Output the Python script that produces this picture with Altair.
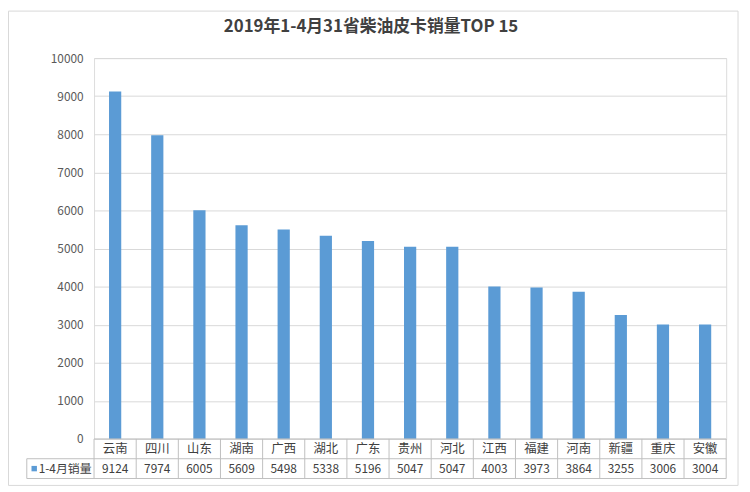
import altair as alt
import pandas as pd

# ---- data ----
provinces = ["云南", "四川", "山东", "湖南", "广西", "湖北", "广东", "贵州",
             "河北", "江西", "福建", "河南", "新疆", "重庆", "安徽"]
sales = [9124, 7974, 6005, 5609, 5498, 5338, 5196, 5047, 5047, 4003,
         3973, 3864, 3255, 3006, 3004]
series_name = "1-4月销量"
title_text = "2019年1-4月31省柴油皮卡销量TOP 15"
y_ticks = list(range(0, 10001, 1000))

df = pd.DataFrame({"province": provinces, "sales": sales,
                   "label": [str(v) for v in sales]})
one = pd.DataFrame({"k": [0]})

W, H = 639, 385
ROW = 20
FONT = "Noto Sans CJK SC"
BAR = "#5B9BD5"
LINE = "#BFBFBF"
TXT = "#404040"

x_band = alt.X("province:N", sort=provinces, axis=None,
               scale=alt.Scale(paddingInner=0, paddingOuter=0))

bars = alt.Chart(df).mark_bar(color=BAR, width=alt.RelativeBandSize(0.29)).encode(
    x=x_band,
    y=alt.Y("sales:Q", title=None,
            scale=alt.Scale(domain=[0, 10000], nice=False),
            axis=alt.Axis(values=y_ticks, format="d", domain=False, ticks=False,
                          gridColor="#D9D9D9", labelColor="#595959",
                          labelFontSize=12, labelFont=FONT, labelPadding=11)),
)

cat_text = alt.Chart(df).mark_text(fontSize=12.5, font=FONT, color=TXT).encode(
    x=x_band, y=alt.value(H + ROW / 2), text="province:N")
val_text = alt.Chart(df).mark_text(fontSize=12, font=FONT, color=TXT).encode(
    x=x_band, y=alt.value(H + ROW * 1.5), text="label:N")

vlines = alt.Chart(df).mark_rule(color=LINE, strokeWidth=1).encode(
    x=alt.X("province:N", sort=provinces, axis=None, bandPosition=0,
            scale=alt.Scale(paddingInner=0, paddingOuter=0)),
    y=alt.value(H), y2=alt.value(H + 2 * ROW))

frame = alt.Chart(one)
right_line = frame.mark_rule(color=LINE).encode(
    x=alt.value(W), y=alt.value(H), y2=alt.value(H + 2 * ROW))
top_line = frame.mark_rule(color=LINE).encode(
    x=alt.value(0), x2=alt.value(W), y=alt.value(H))
mid_line = frame.mark_rule(color=LINE).encode(
    x=alt.value(-68), x2=alt.value(W), y=alt.value(H + ROW))
bot_line = frame.mark_rule(color=LINE).encode(
    x=alt.value(-68), x2=alt.value(W), y=alt.value(H + 2 * ROW))
leg_left = frame.mark_rule(color=LINE).encode(
    x=alt.value(-68), y=alt.value(H + ROW), y2=alt.value(H + 2 * ROW))
leg_sq = frame.mark_square(color=BAR, size=30, opacity=1).encode(
    x=alt.value(-60.5), y=alt.value(H + ROW * 1.5))
leg_txt = alt.Chart(pd.DataFrame({"s": [series_name]})).mark_text(
    fontSize=12, font=FONT, color=TXT, align="left").encode(
    x=alt.value(-56), y=alt.value(H + ROW * 1.5), text="s:N")

title_mark = alt.Chart(pd.DataFrame({"t": [title_text]})).mark_text(
    fontSize=17, font=FONT, fontWeight="bold", color=TXT,
    align="center", baseline="middle").encode(
    x=alt.value(280), y=alt.value(-31), text="t:N")

border = frame.mark_rect(fill=None, stroke="#D9D9D9", strokeWidth=1).encode(
    x=alt.value(-86.5), x2=alt.value(651), y=alt.value(-47.5), y2=alt.value(432))

chart = alt.layer(
    border, bars, vlines, right_line, top_line, mid_line, bot_line,
    leg_left, leg_sq, leg_txt, cat_text, val_text, title_mark
).properties(
    width=W, height=H,
    autosize=alt.AutoSizeParams(type="none"),
    padding={"left": 87, "top": 48, "right": 16, "bottom": 50},
).configure_view(stroke=None).configure(background="white")

chart.save("out.html", embed_options={"renderer": "svg", "actions": False})
